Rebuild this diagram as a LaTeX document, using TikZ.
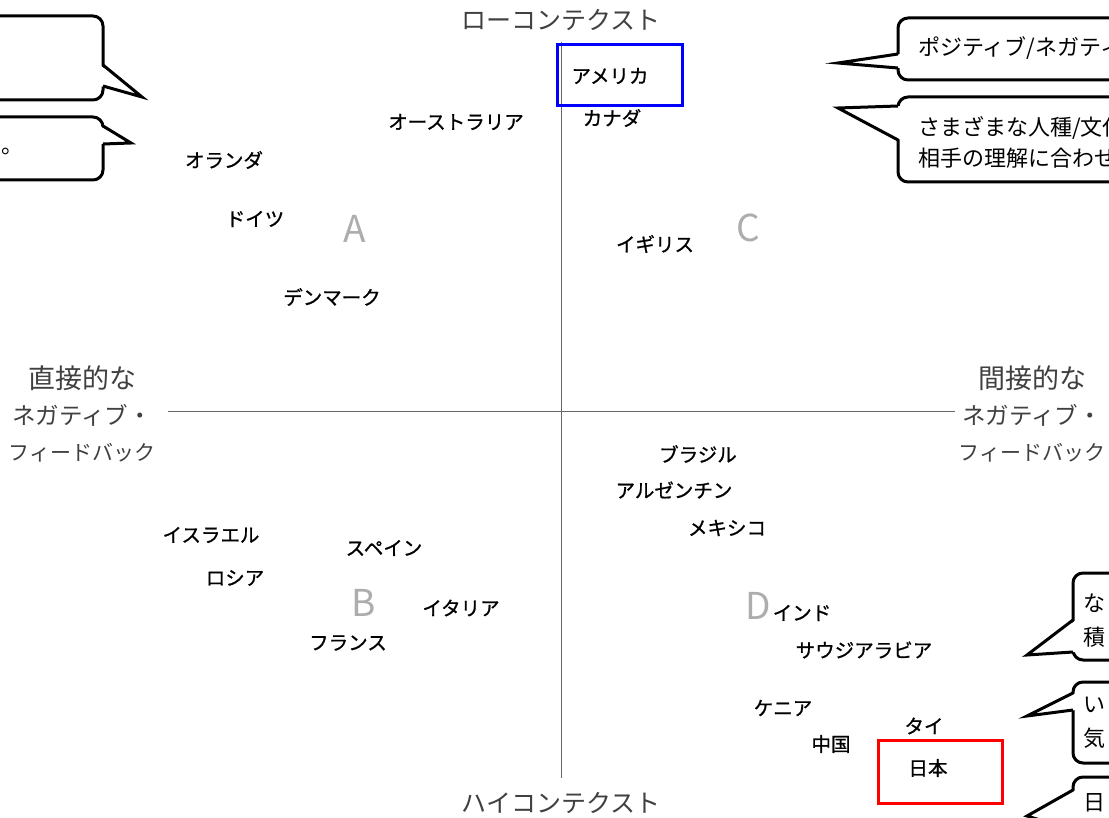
\documentclass[tikz,border=0pt]{standalone}
\usepackage{fontspec}
\setmainfont{Noto Sans CJK JP}
\newfontfamily\jp{Noto Sans CJK JP}
\newfontfamily\jpb{Noto Sans CJK JP}[FakeBold=0.9]
\definecolor{axisgray}{HTML}{404040}
\definecolor{letgray}{HTML}{ADADAD}
\definecolor{hlblue}{HTML}{0000FF}
\definecolor{hlred}{HTML}{FF0000}
\tikzset{
  country/.style={font=\jpb\fontsize{19.5}{19.5}\selectfont, text=black, inner sep=0pt},
  axislabel/.style={font=\jp\fontsize{25}{36}\selectfont, text=axisgray, inner sep=0pt, align=center},
  quad/.style={font=\jp\fontsize{37}{37}\selectfont, text=letgray, inner sep=0pt},
  axisline/.style={draw=gray!80!black, line width=1pt},
  cbox/.style={draw=black, fill=white, line width=3pt, rounded corners=10pt},
  ctail/.style={draw=black, line width=3pt, line join=miter, miter limit=20},
  ctext/.style={font=\jp\fontsize{22}{30}\selectfont, text=black, inner sep=0pt, anchor=west},
  hlbox/.style={line width=3pt}
}
\newcommand{\lA}{\fontsize{27}{36}\selectfont}
\newcommand{\lB}{\fontsize{23.5}{36}\selectfont}
\newcommand{\lC}{\fontsize{21}{36}\selectfont}
\begin{document}
\begin{tikzpicture}[x=1pt,y=-1pt]
\useasboundingbox (0,0) rectangle (1109,818);
\fill[white] (0,0) rectangle (1109,818);

% axes
\coordinate (vtop) at (561,42);
\coordinate (vbot) at (561,778);
\coordinate (hleft) at (168,411);
\coordinate (hright) at (955,411);
\draw[axisline] (vtop) -- (vbot);
\draw[axisline] (hleft) -- (hright);

% axis labels
\node[axislabel] (low) at (561,20) {ローコンテクスト};
\node[axislabel] (high) at (561,803) {ハイコンテクスト};
\node[axislabel] (direct) at (82,414) {{\lA 直接的な}\\{\lB ネガティブ・}\\{\lC フィードバック}};
\node[axislabel] (indirect) at (1032,414) {{\lA 間接的な}\\{\lB ネガティブ・}\\{\lC フィードバック}};

% quadrant letters
\node[quad] (qa) at (355,229) {A};
\node[quad] (qb) at (364,603) {B};
\node[quad] (qc) at (748,228) {C};
\node[quad] (qd) at (758,606) {D};

% highlight boxes
\draw[hlbox, draw=hlblue] (557,45) rectangle (682,106);
\draw[hlbox, draw=hlred] (878,740) rectangle (1002,803);

% countries
\node[country] (usa) at (610,76) {アメリカ};
\node[country] (can) at (612,118) {カナダ};
\node[country] (aus) at (456,122) {オーストラリア};
\node[country] (ned) at (224,160) {オランダ};
\node[country] (ger) at (255,219) {ドイツ};
\node[country] (den) at (332,297) {デンマーク};
\node[country] (uk) at (655,244) {イギリス};
\node[country] (bra) at (698,454) {ブラジル};
\node[country] (arg) at (674,490) {アルゼンチン};
\node[country] (mex) at (727,528) {メキシコ};
\node[country] (isr) at (211,535) {イスラエル};
\node[country] (esp) at (384,548) {スペイン};
\node[country] (rus) at (235,578) {ロシア};
\node[country] (ita) at (461,608) {イタリア};
\node[country] (fra) at (348,643) {フランス};
\node[country] (ind) at (802,613) {インド};
\node[country] (sau) at (864,650) {サウジアラビア};
\node[country] (ken) at (783,708) {ケニア};
\node[country] (chn) at (831,744) {中国};
\node[country] (tha) at (924,726) {タイ};
\node[country] (jpn) at (928,768) {日本};

% top-left callouts
\draw[cbox] (-30,16) rectangle (103,100);
\fill[white] (100,65) -- (142,97) -- (100,86) -- cycle;
\draw[ctail] (103,65) -- (142,97) -- (103,86);

\draw[cbox] (-30,117) rectangle (103,180);
\fill[white] (100,126) -- (131,143) -- (100,144) -- cycle;
\draw[ctail] (103,126) -- (131,143) -- (103,144);
\node[ctext] (tl2) at (1,151) {。};

% top-right callouts
\draw[cbox] (898,18) rectangle (1140,80);
\fill[white] (901,54) -- (838,63) -- (901,68) -- cycle;
\draw[ctail] (898,54) -- (838,63) -- (898,68);
\node[ctext] (tr1) at (918,48) {ポジティブ/ネガティブ};

\draw[cbox] (898,97) rectangle (1140,182);
\fill[white] (901,106) -- (838,108) -- (901,140) -- cycle;
\draw[ctail] (898,106) -- (838,108) -- (898,140);
\node[ctext] (tr2a) at (918,128) {さまざまな人種/文化};
\node[ctext] (tr2b) at (918,158) {相手の理解に合わせ};

% bottom-right callouts
\draw[cbox] (1073,573) rectangle (1140,660);
\fill[white] (1076,620) -- (1027,655) -- (1076,652) -- cycle;
\draw[ctail] (1073,620) -- (1027,655) -- (1073,652);
\node[ctext] (br1a) at (1083,603) {な};
\node[ctext] (br1b) at (1083,637) {積};

\draw[cbox] (1073,682) rectangle (1140,763);
\fill[white] (1076,693) -- (1027,716) -- (1076,710) -- cycle;
\draw[ctail] (1073,693) -- (1027,716) -- (1073,710);
\node[ctext] (br2a) at (1083,705) {い};
\node[ctext] (br2b) at (1083,738) {気};

\draw[cbox] (1073,777) rectangle (1140,850);
\fill[white] (1076,790) -- (1027,816) -- (1076,830) -- cycle;
\draw[ctail] (1073,790) -- (1027,816) -- (1073,830);
\node[ctext] (br3) at (1083,803) {日};
\end{tikzpicture}
\end{document}
